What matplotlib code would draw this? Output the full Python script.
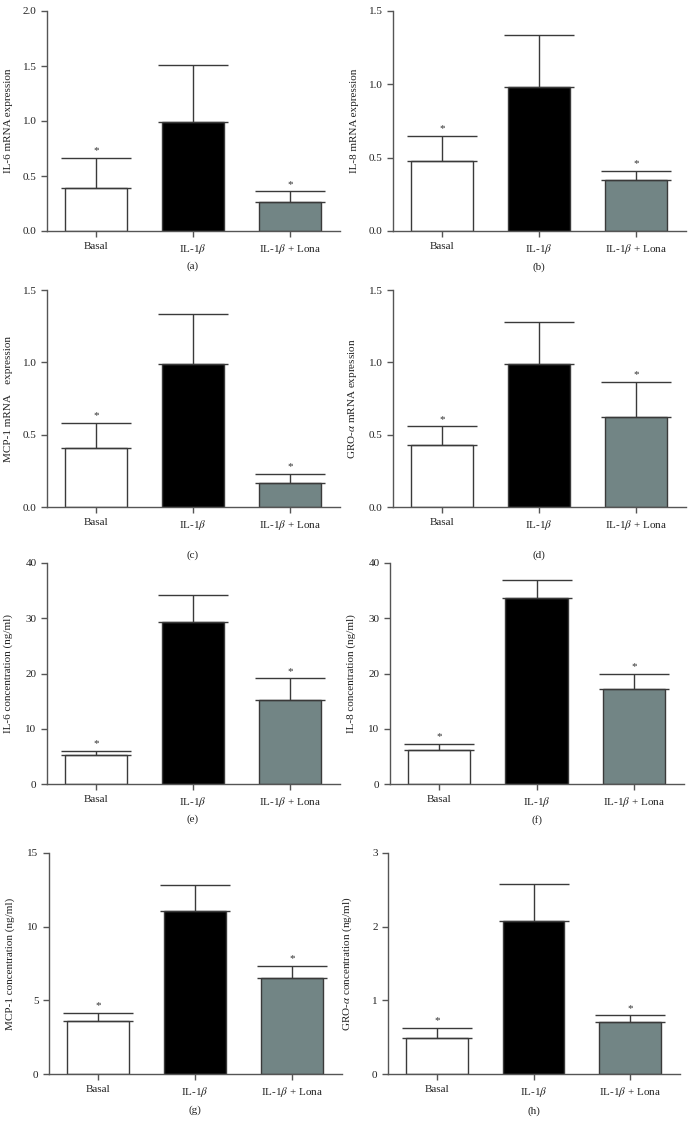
import numpy as np
import matplotlib.pyplot as plt

plt.rcParams['font.family'] = ['Liberation Serif', 'DejaVu Serif']
plt.rcParams['mathtext.fontset'] = 'stix'

groups = ['Basal', r'IL-1$\beta$', r'IL-1$\beta$ + Lona']

# means and upper error-bar tops
il6_mrna = [0.39, 0.99, 0.26]
il6_mrna_top = [0.665, 1.505, 0.36]
il8_mrna = [0.48, 0.985, 0.35]
il8_mrna_top = [0.65, 1.335, 0.41]
mcp1_mrna = [0.405, 0.99, 0.167]
mcp1_mrna_top = [0.58, 1.335, 0.228]
gro_mrna = [0.432, 0.99, 0.62]
gro_mrna_top = [0.557, 1.28, 0.867]
il6_conc = [5.3, 29.4, 15.2]
il6_conc_top = [5.95, 34.2, 19.1]
il8_conc = [6.2, 33.6, 17.2]
il8_conc_top = [7.3, 37.0, 19.9]
mcp1_conc = [3.57, 11.05, 6.52]
mcp1_conc_top = [4.12, 12.8, 7.31]
gro_conc = [0.49, 2.08, 0.705]
gro_conc_top = [0.627, 2.58, 0.795]
stars = [True, False, True]

ylabels = ['IL-6 mRNA expression', 'IL-8 mRNA expression',
           'MCP-1 mRNA    expression', r'GRO-$\alpha$ mRNA expression',
           'IL-6 concentration (ng/ml)', 'IL-8 concentration (ng/ml)',
           'MCP-1 concentration (ng/ml)', r'GRO-$\alpha$ concentration (ng/ml)']
letters = ['(a)', '(b)', '(c)', '(d)', '(e)', '(f)', '(g)', '(h)']

W, H = 692, 1132
fig = plt.figure(figsize=(W/100, H/100), dpi=100)

# axes boxes in pixels: left, top, right, bottom
boxes = [(47, 11, 340, 231), (393, 11, 686, 231),
         (47, 290, 340, 507), (393, 290, 686, 507),
         (47, 563, 340, 784), (390, 563, 684, 784),
         (49, 853, 342, 1074), (388, 853, 680, 1074)]
letter_y = [266, 267, 555, 555, 819, 820, 1110, 1111]
ymax = [2.0, 1.5, 1.5, 1.5, 40, 40, 15, 3]
ystep = [0.5, 0.5, 0.5, 0.5, 10, 10, 5, 1]
means = [il6_mrna, il8_mrna, mcp1_mrna, gro_mrna, il6_conc, il8_conc, mcp1_conc, gro_conc]
tops = [il6_mrna_top, il8_mrna_top, mcp1_mrna_top, gro_mrna_top,
        il6_conc_top, il8_conc_top, mcp1_conc_top, gro_conc_top]

colors = ['white', 'black', '#728585']
edge = '#3a3a3a'
axcol = '#555555'

for i in range(8):
    x0, y0, x1, y1 = boxes[i]
    ax = fig.add_axes([x0/W, 1 - y1/H, (x1 - x0)/W, (y1 - y0)/H])
    x = np.arange(3)
    m = np.array(means[i])
    t = np.array(tops[i])
    ax.bar(x, m, width=0.64, color=colors, edgecolor=edge, linewidth=1.0, zorder=2)
    ax.errorbar(x, m, yerr=[np.zeros(3), t - m], fmt='none', ecolor=edge,
                elinewidth=1.0, capsize=25, capthick=1.0, zorder=3)
    for j in range(3):
        if stars[j]:
            ax.annotate('*', (x[j], t[j]), xytext=(0, 2), textcoords='offset points',
                        ha='center', va='bottom', fontsize=8, color='#333333')
    ax.set_xlim(-0.505, 2.515)
    ax.set_ylim(0, ymax[i])
    ticks = np.arange(0, ymax[i] + ystep[i]/2, ystep[i])
    ax.set_yticks(ticks)
    if i < 4:
        ax.set_yticklabels(['%.1f' % v for v in ticks])
    else:
        ax.set_yticklabels(['%d' % v for v in ticks])
    ax.set_xticks(x)
    ax.set_xticklabels(groups)
    for s in ['top', 'right']:
        ax.spines[s].set_visible(False)
    for s in ['left', 'bottom']:
        ax.spines[s].set_color(axcol)
        ax.spines[s].set_linewidth(1.0)
    ax.tick_params(axis='both', colors=axcol, labelcolor='#222222', labelsize=8,
                   length=4, width=1.0, direction='out')
    ax.tick_params(axis='x', pad=4)
    ax.set_ylabel(ylabels[i], fontsize=8, color='#222222')
    ax.yaxis.set_label_coords(-34.0 / (x1 - x0), 0.5)
    fig.text((x0 + (x1 - x0) * 1.505 / 3.02) / W, 1 - letter_y[i]/H,
             letters[i], ha='center', va='center', fontsize=8, color='#222222')

fig.savefig('out.png', dpi=100)
